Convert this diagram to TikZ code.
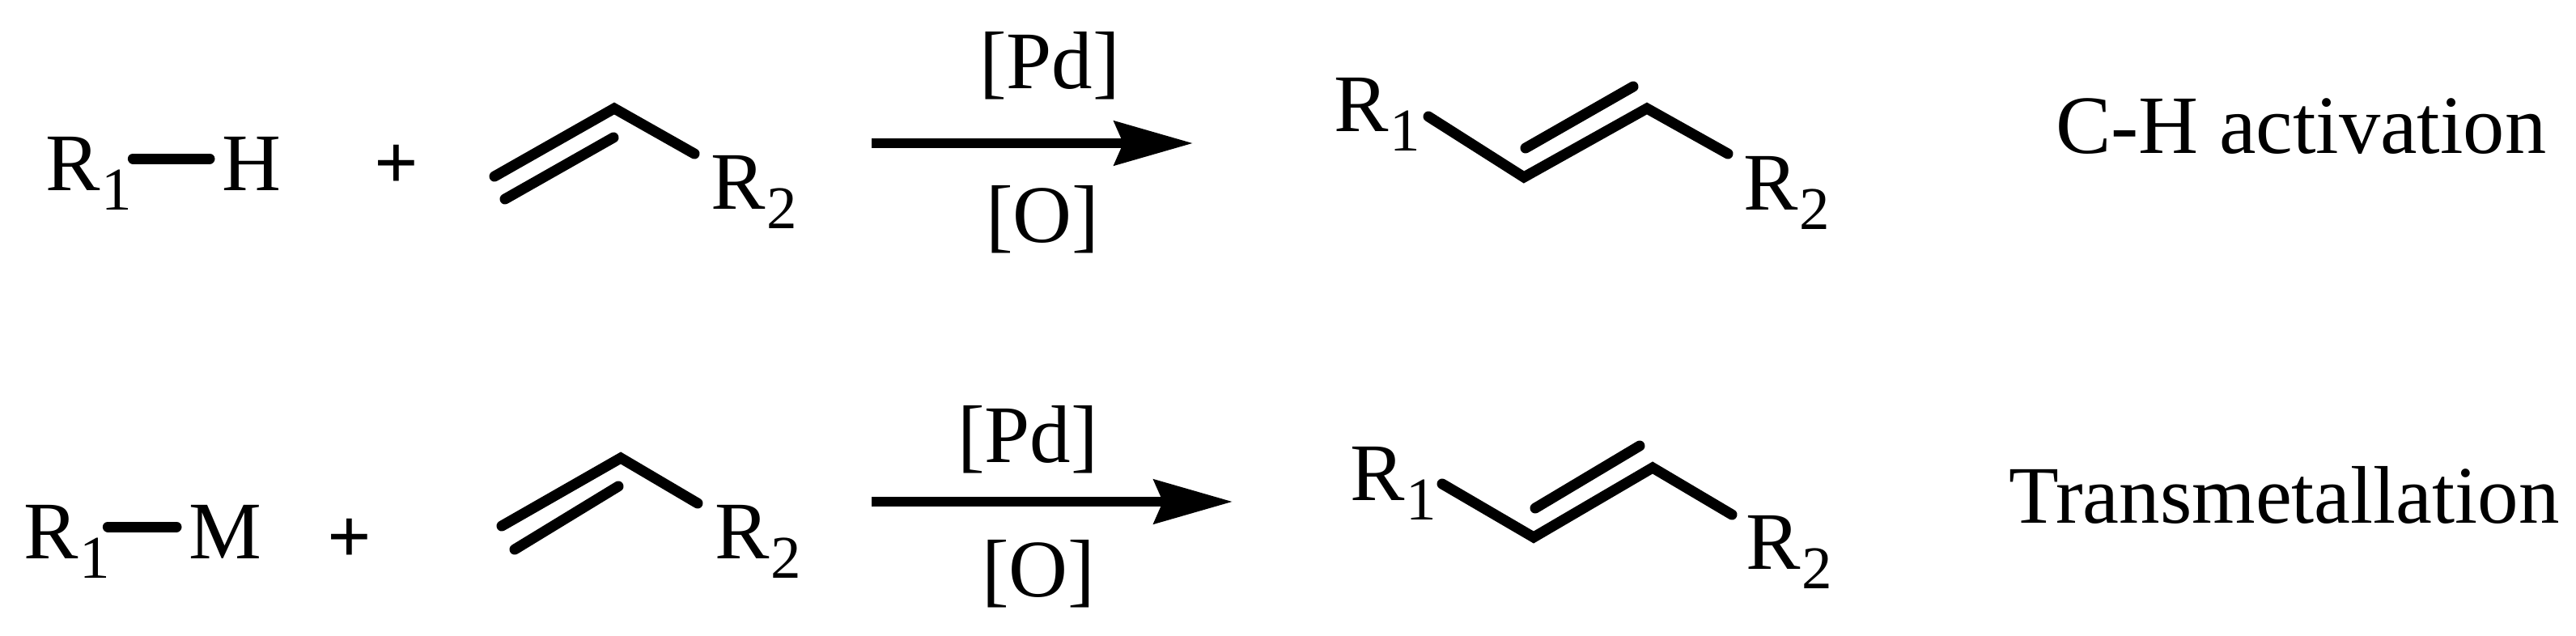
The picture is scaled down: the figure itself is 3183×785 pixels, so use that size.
\documentclass[tikz,border=0pt]{standalone}
\usepackage{fontspec}
\setmainfont{Liberation Serif}
\usetikzlibrary{arrows.meta}
\newcommand{\subdigit}[2]{#1\kern2pt\raisebox{-24pt}{\fontsize{75}{80}\selectfont #2}}
\tikzset{
  txt/.style={anchor=base west,inner sep=0pt,outer sep=0pt,font=\fontsize{101}{120}\selectfont},
  labeltxt/.style={txt,font=\fontsize{102.5}{120}\selectfont},
  plussign/.style={anchor=base,inner sep=0pt,outer sep=0pt,font=\fontsize{96}{110}\selectfont\bfseries},
  bond/.style={line width=13pt,line cap=round,miter limit=10,line join=miter},
  reaction/.style={line width=12pt,-{Stealth[length=97pt,width=54pt,inset=11pt]}}
}
\begin{document}
\begin{tikzpicture}[x=1pt,y=-1pt]
\useasboundingbox (0,0) rectangle (3183,785);
% --- top row ---
\node[txt] (r1a) at (56,235) {\subdigit{R}{1}};
\node[txt] (ha) at (274,235) {H};
\draw[bond] ([shift={(1.5,-39)}]r1a.base east) -- ([shift={(-15,-39)}]ha.base west);
\node[plussign] (pa) at (489.5,233) {+};
\coordinate (a1) at (611,218); \coordinate (a2) at (759,134); \coordinate (a3) at (858,190);
\coordinate (a4) at (624,246); \coordinate (a5) at (758,170);
\draw[bond] (a1) -- (a2) -- (a3);
\draw[bond] (a4) -- (a5);
\node[txt] (r2a) at (878,258) {\subdigit{R}{2}};
\coordinate (arrA0) at (1077,177); \coordinate (arrA1) at (1474,177);
\draw[reaction] (arrA0) -- (arrA1);
\node[txt] (pda) at (1210,109) {[Pd]};
\node[txt] (oa) at (1218,299) {[O]};
\node[txt] (r1pa) at (1648,162) {\subdigit{R}{1}};
\coordinate (b1) at (1765,144); \coordinate (b2) at (1883,219); \coordinate (b3) at (2035,134); \coordinate (b4) at (2135,190);
\coordinate (b5) at (1885,183); \coordinate (b6) at (2018,107);
\draw[bond] (b1) -- (b2) -- (b3) -- (b4);
\draw[bond] (b5) -- (b6);
\node[txt] (r2pa) at (2154,259) {\subdigit{R}{2}};
\node[labeltxt] (la) at (2540,189) {C-H activation};
% --- bottom row ---
\node[txt] (r1b) at (29,690) {\subdigit{R}{1}};
\node[txt] (mb) at (233,690) {M};
\draw[bond] ([shift={(-2.5,-39)}]r1b.base east) -- ([shift={(-15,-39)}]mb.base west);
\node[plussign] (pb) at (432,695) {+};
\coordinate (c1) at (620,650); \coordinate (c2) at (767,566); \coordinate (c3) at (862,622);
\coordinate (c4) at (636,679); \coordinate (c5) at (764,601);
\draw[bond] (c1) -- (c2) -- (c3);
\draw[bond] (c4) -- (c5);
\node[txt] (r2b) at (883,690) {\subdigit{R}{2}};
\coordinate (arrB0) at (1077,620); \coordinate (arrB1) at (1523,620);
\draw[reaction] (arrB0) -- (arrB1);
\node[txt] (pdb) at (1183,571) {[Pd]};
\node[txt] (ob) at (1213,737) {[O]};
\node[txt] (r1pb) at (1668,618) {\subdigit{R}{1}};
\coordinate (d1) at (1782,598); \coordinate (d2) at (1895,664); \coordinate (d3) at (2042,578); \coordinate (d4) at (2140,636);
\coordinate (d5) at (1897,628); \coordinate (d6) at (2026,551);
\draw[bond] (d1) -- (d2) -- (d3) -- (d4);
\draw[bond] (d5) -- (d6);
\node[txt] (r2pb) at (2157,703) {\subdigit{R}{2}};
\node[txt] (lb) at (2482,646) {Transmetallation};
\end{tikzpicture}
\end{document}
